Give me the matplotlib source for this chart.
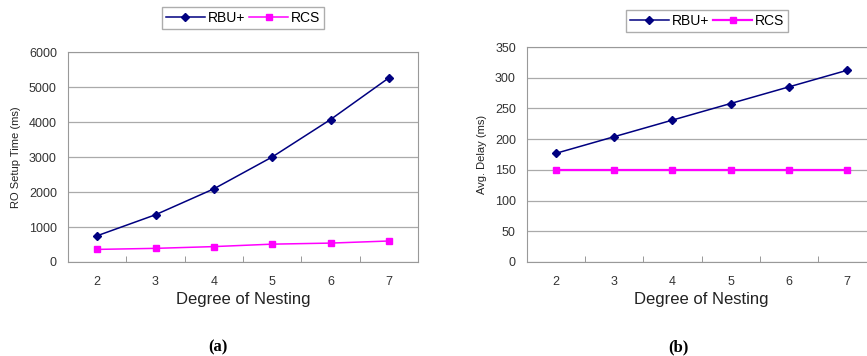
import matplotlib.pyplot as plt

nesting = [2, 3, 4, 5, 6, 7]
setup_rbu = [750, 1350, 2090, 3000, 4070, 5260]
setup_rcs = [360, 390, 440, 510, 540, 600]
delay_rbu = [177, 204, 231, 258, 285, 312]
delay_rcs = [150, 150, 150, 150, 150, 150]

W, H = 867, 356
fig = plt.figure(figsize=(W / 100, H / 100), dpi=100)
plt.rcParams['font.family'] = ['Liberation Sans', 'DejaVu Sans']

def px_axes(x0, y0, x1, y1):
    return fig.add_axes([x0 / W, (H - y1) / H, (x1 - x0) / W, (y1 - y0) / H])

def style(ax, ymax, ystep, ylabel):
    ax.set_xlim(1.5, 7.5)
    ax.set_ylim(0, ymax)
    ax.set_yticks(range(0, ymax + 1, ystep))
    ax.set_xticks(nesting)
    ax.set_xticks([2.5, 3.5, 4.5, 5.5, 6.5], minor=True)
    ax.tick_params(axis='x', which='major', length=0, pad=10, labelsize=9, colors='#333')
    ax.tick_params(axis='x', which='minor', length=4, direction='in', color='#888')
    ax.tick_params(axis='y', length=0, pad=8, labelsize=9, colors='#333')
    ax.grid(axis='y', color='#aaa', linewidth=0.9)
    ax.set_axisbelow(True)
    for s in ax.spines.values():
        s.set_color('#999')
    ax.set_xlabel('Degree of Nesting', fontsize=12, color='#222', labelpad=3)
    ax.set_ylabel(ylabel, fontsize=8, color='#222', labelpad=6)

def legend(ax, cx, cy):
    ax.legend(loc='center', bbox_to_anchor=(cx / W, (H - cy) / H), bbox_transform=fig.transFigure,
              ncol=2, fontsize=10, frameon=True, fancybox=False, edgecolor='#999',
              handlelength=2.8, columnspacing=0.3, handletextpad=0.2, borderpad=0.3)

ax1 = px_axes(68, 52, 418, 262)
ax1.plot(nesting, setup_rbu, color='#000080', marker='D', markersize=4.5, linewidth=1.1, label='RBU+')
ax1.plot(nesting, setup_rcs, color='#FF00FF', marker='s', markersize=5, linewidth=1.1, label='RCS')
style(ax1, 6000, 1000, 'RO Setup Time (ms)')
legend(ax1, 243, 18)

ax2 = px_axes(527, 47, 876, 262)
ax2.plot(nesting, delay_rbu, color='#000080', marker='D', markersize=4.5, linewidth=1.1, label='RBU+')
ax2.plot(nesting, delay_rcs, color='#FF00FF', marker='s', markersize=5, linewidth=1.6, label='RCS')
style(ax2, 350, 50, 'Avg. Delay (ms)')
legend(ax2, 707, 21)

fig.text(218 / W, (H - 347) / H, '(a)', fontsize=12, fontweight='bold', family='Liberation Serif',
         ha='center', va='center')
fig.text(678 / W, (H - 347) / H, '(b)', fontsize=12, fontweight='bold', family='Liberation Serif',
         ha='center', va='center')

fig.savefig('out.png', dpi=100)
